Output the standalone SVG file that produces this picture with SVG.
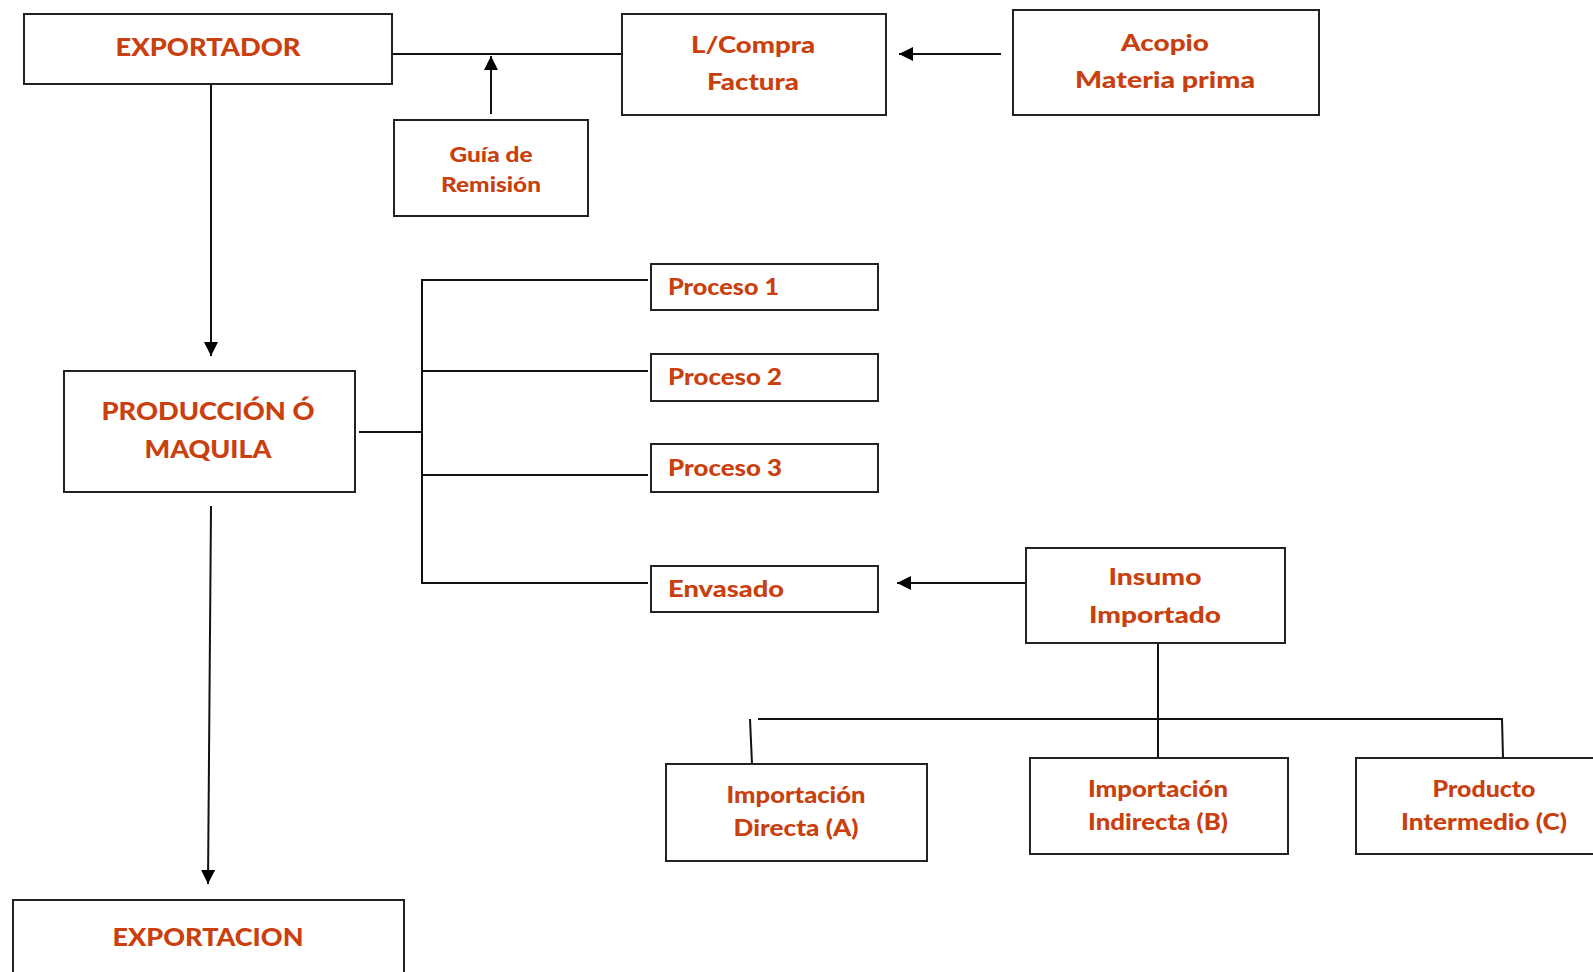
<svg xmlns="http://www.w3.org/2000/svg" width="1593" height="972" viewBox="0 0 1593 972">
<style>
.box{fill:#fff;stroke:#222;stroke-width:2}
.t{font-family:Lato,"Liberation Sans",sans-serif;font-weight:900;fill:#C9400E;font-size:23px;text-anchor:middle}
.tl{text-anchor:start}
.cap{font-size:24px}
.sm{font-size:20px}
.c{fill:none;stroke:#111;stroke-width:2}
</style>
<defs>
<marker id="ah2" viewBox="0 0 10 10" refX="10" refY="5" markerWidth="14" markerHeight="14" markerUnits="userSpaceOnUse" orient="auto">
<path d="M0,0 L10,5 L0,10 z" fill="#000"/>
</marker>
</defs>
<rect width="1593" height="972" fill="#fff"/>
<g id="connectors">
<line class="c" x1="392" y1="54" x2="622" y2="54"/>
<line class="c" x1="491" y1="114" x2="491" y2="56" marker-end="url(#ah2)"/>
<line class="c" x1="1001" y1="54" x2="899" y2="54" marker-end="url(#ah2)"/>
<line class="c" x1="211" y1="84" x2="211" y2="356" marker-end="url(#ah2)"/>
<line class="c" x1="359" y1="432" x2="422" y2="432"/>
<polyline class="c" points="648,280 422,280 422,583 648,583"/>
<line class="c" x1="422" y1="371" x2="648" y2="371"/>
<line class="c" x1="422" y1="475" x2="648" y2="475"/>
<line class="c" x1="1026" y1="583" x2="897" y2="583" marker-end="url(#ah2)"/>
<line class="c" x1="1158" y1="643" x2="1158" y2="758"/>
<polyline class="c" points="758,719 1502,719 1503,758"/>
<line class="c" x1="750" y1="719" x2="752" y2="764"/>
<line class="c" x1="211" y1="506" x2="208" y2="884" marker-end="url(#ah2)"/>
</g>
<g id="exportador">
<rect class="box" x="24" y="14" width="368" height="70"/>
<text class="t cap" x="208" y="56" textLength="185" lengthAdjust="spacingAndGlyphs">EXPORTADOR</text>
</g>
<g id="guia">
<rect class="box" x="394" y="120" width="194" height="96"/>
<text class="t sm" x="491" y="162" textLength="83" lengthAdjust="spacingAndGlyphs">Guía de</text>
<text class="t sm" x="491" y="192" textLength="100" lengthAdjust="spacingAndGlyphs">Remisión</text>
</g>
<g id="lcompra">
<rect class="box" x="622" y="14" width="264" height="101"/>
<text class="t" x="753" y="53" textLength="124" lengthAdjust="spacingAndGlyphs">L/Compra</text>
<text class="t" x="753" y="90" textLength="92" lengthAdjust="spacingAndGlyphs">Factura</text>
</g>
<g id="acopio">
<rect class="box" x="1013" y="10" width="306" height="105"/>
<text class="t" x="1165" y="51" textLength="88" lengthAdjust="spacingAndGlyphs">Acopio</text>
<text class="t" x="1165" y="88" textLength="180" lengthAdjust="spacingAndGlyphs">Materia prima</text>
</g>
<g id="produccion">
<rect class="box" x="64" y="371" width="291" height="121"/>
<text class="t cap" x="208" y="420" textLength="213" lengthAdjust="spacingAndGlyphs">PRODUCCIÓN Ó</text>
<text class="t cap" x="208" y="458" textLength="127" lengthAdjust="spacingAndGlyphs">MAQUILA</text>
</g>
<g id="proceso1">
<rect class="box" x="651" y="264" width="227" height="46"/>
<text class="t tl" x="668" y="295" textLength="111" lengthAdjust="spacingAndGlyphs">Proceso 1</text>
</g>
<g id="proceso2">
<rect class="box" x="651" y="354" width="227" height="47"/>
<text class="t tl" x="668" y="385" textLength="114" lengthAdjust="spacingAndGlyphs">Proceso 2</text>
</g>
<g id="proceso3">
<rect class="box" x="651" y="444" width="227" height="48"/>
<text class="t tl" x="668" y="476" textLength="114" lengthAdjust="spacingAndGlyphs">Proceso 3</text>
</g>
<g id="envasado">
<rect class="box" x="651" y="566" width="227" height="46"/>
<text class="t tl" x="668" y="597" textLength="116" lengthAdjust="spacingAndGlyphs">Envasado</text>
</g>
<g id="insumo">
<rect class="box" x="1026" y="548" width="259" height="95"/>
<text class="t" x="1155" y="585" textLength="93" lengthAdjust="spacingAndGlyphs">Insumo</text>
<text class="t" x="1155" y="623" textLength="132" lengthAdjust="spacingAndGlyphs">Importado</text>
</g>
<g id="importacion-directa">
<rect class="box" x="666" y="764" width="261" height="97"/>
<text class="t" x="796" y="803" textLength="139" lengthAdjust="spacingAndGlyphs">Importación</text>
<text class="t" x="796" y="836" textLength="125" lengthAdjust="spacingAndGlyphs">Directa (A)</text>
</g>
<g id="importacion-indirecta">
<rect class="box" x="1030" y="758" width="258" height="96"/>
<text class="t" x="1158" y="797" textLength="140" lengthAdjust="spacingAndGlyphs">Importación</text>
<text class="t" x="1158" y="830" textLength="140" lengthAdjust="spacingAndGlyphs">Indirecta (B)</text>
</g>
<g id="producto-intermedio">
<rect class="box" x="1356" y="758" width="260" height="96"/>
<text class="t" x="1484" y="797" textLength="103" lengthAdjust="spacingAndGlyphs">Producto</text>
<text class="t" x="1484" y="830" textLength="166" lengthAdjust="spacingAndGlyphs">Intermedio (C)</text>
</g>
<g id="exportacion">
<rect class="box" x="13" y="900" width="391" height="100"/>
<text class="t cap" x="208" y="946" textLength="191" lengthAdjust="spacingAndGlyphs">EXPORTACION</text>
</g>
</svg>
